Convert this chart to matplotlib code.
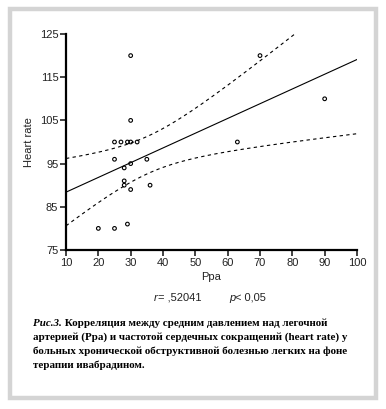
import numpy as np
import matplotlib.pyplot as plt
from matplotlib.patches import Rectangle

# точки с графика (Ppa, heart rate)
ppa = [20, 25, 29, 25, 27, 29, 30, 32, 25, 35, 28, 30, 28, 28, 36, 30, 30, 30, 63, 70, 90]
heart_rate = [80, 80, 81, 100, 100, 100, 100, 100, 96, 96, 94, 95, 90, 91, 90, 89, 105, 120, 100, 120, 110]

x_ticks = [10, 20, 30, 40, 50, 60, 70, 80, 90, 100]
y_ticks = [75, 85, 95, 105, 115, 125]

caption_head = 'Рис.3.'
caption_lines = [
    ' Корреляция между средним давлением над легочной',
    'артерией (Ppa) и частотой сердечных сокращений (heart rate) у',
    'больных хронической обструктивной болезнью легких на фоне',
    'терапии ивабрадином.',
]

plt.rcParams['font.family'] = ['Liberation Sans', 'DejaVu Sans']

fig = plt.figure(figsize=(3.86, 4.09), dpi=100)
fig.patch.set_facecolor('white')

# серая рамка
fig.patches.append(Rectangle((10 / 386, 1 - 398 / 409), 366 / 386, 389 / 409,
                             transform=fig.transFigure, fill=False,
                             edgecolor='#d4d4d4', linewidth=3.2))

ax = fig.add_axes([66 / 386, 1 - 250 / 409, 291 / 386, 216 / 409])

x = np.array(ppa, dtype=float)
y = np.array(heart_rate, dtype=float)
n = len(x)
b, a = np.polyfit(x, y, 1)
xs = np.linspace(10, 100, 200)
yfit = a + b * xs
resid = y - (a + b * x)
s = np.sqrt(np.sum(resid ** 2) / (n - 2))
sxx = np.sum((x - x.mean()) ** 2)
t = 2.10
hw = t * s * np.sqrt(1 / n + (xs - x.mean()) ** 2 / sxx)

ax.plot(xs, yfit, color='black', lw=0.8)
ax.plot(xs, yfit + hw, color='black', lw=0.8, ls=(0, (3, 3)))
ax.plot(xs, yfit - hw, color='black', lw=0.8, ls=(0, (3, 3)))
ax.scatter(x, y, s=7, facecolors='none', edgecolors='black', linewidths=0.8, zorder=3)

ax.set_xlim(10, 100)
ax.set_ylim(75, 125)
ax.set_xticks(x_ticks)
ax.set_yticks(y_ticks)
for sp in ['top', 'right']:
    ax.spines[sp].set_visible(False)
for sp in ['left', 'bottom']:
    ax.spines[sp].set_linewidth(1.6)
ax.tick_params(direction='out', length=4, width=1.2, labelsize=8, pad=1.5, colors='#222222')
ax.set_xlabel('Ppa', fontsize=8, color='#222222', labelpad=3)
ax.set_ylabel('Heart rate', fontsize=8, color='#222222', labelpad=4)

# r и p
fig.text(154 / 386, 1 - 298 / 409, 'r', style='italic', fontsize=8, va='center', color='#222222')
fig.text(158 / 386, 1 - 298 / 409, '= ,52041', fontsize=8, va='center', color='#222222')
fig.text(229 / 386, 1 - 298 / 409, 'p', style='italic', fontsize=8, va='center', color='#222222')
fig.text(235 / 386, 1 - 298 / 409, '< 0,05', fontsize=8, va='center', color='#222222')

# подпись
serif = ['Liberation Serif', 'DejaVu Serif']
left = 33 / 386
y0 = 323
fs = 7.9
head = fig.text(left, 1 - y0 / 409, caption_head, family=serif, weight='bold',
                style='italic', fontsize=fs, va='center')
fig.canvas.draw()
bb = head.get_window_extent()
head_w = bb.width / fig.bbox.width
for i, line in enumerate(caption_lines):
    xx = left + head_w if i == 0 else left
    fig.text(xx, 1 - (y0 + i * 14) / 409, line, family=serif, weight='bold',
             fontsize=fs, va='center')

fig.savefig('out.png', dpi=100, facecolor='white')
